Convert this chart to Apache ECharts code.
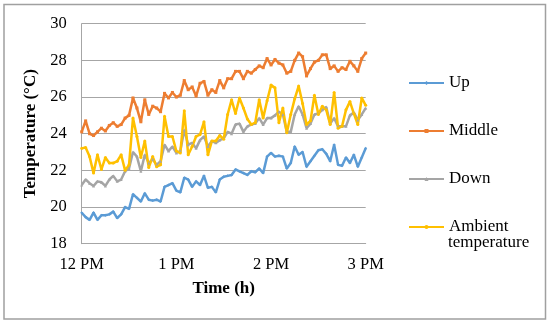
<!DOCTYPE html>
<html>
<head>
<meta charset="utf-8">
<script src="https://cdn.jsdelivr.net/npm/echarts@6/dist/echarts.min.js"></script>
<style>html,body{margin:0;padding:0;background:#fff}#c{width:550px;height:324px}</style>
</head>
<body>
<div id="c"></div>
<script>
// Time in minutes after 12 PM
var minutes = [0,2.5,5,7.5,10,12.5,15,17.5,20,22.5,25,27.5,30,32.5,35,37.5,40,42.5,45,47.5,50,52.5,55,57.5,60,62.5,65,67.5,70,72.5,75,77.5,80,82.5,85,87.5,90,92.5,95,97.5,100,102.5,105,107.5,110,112.5,115,117.5,120,122.5,125,127.5,130,132.5,135,137.5,140,142.5,145,147.5,150,152.5,155,157.5,160,162.5,165,167.5,170,172.5,175,177.5,180];
var tickLabels = {0:'12 PM',60:'1 PM',120:'2 PM',180:'3 PM'};
var up = [19.69,19.45,19.3,19.7,19.3,19.55,19.55,19.6,19.75,19.4,19.6,20.0,19.9,20.7,20.5,20.3,20.75,20.4,20.35,20.4,20.3,21.1,21.2,21.3,20.9,20.8,21.6,21.5,21.1,21.4,21.2,21.7,21.05,21.1,20.8,21.5,21.65,21.7,21.75,22.05,21.95,21.85,21.75,21.95,21.9,22.1,21.85,22.75,22.95,22.75,22.8,22.75,22.1,22.4,23.3,22.85,23.0,22.2,22.5,22.8,23.1,23.15,22.9,22.5,23.4,22.3,22.25,22.7,22.4,22.85,22.2,22.7,23.2];
var middle = [24.1,24.7,24.0,23.9,24.1,24.3,24.15,24.45,24.6,24.4,24.5,24.85,25.0,25.95,25.4,24.65,25.85,25.05,25.5,25.4,25.2,26.2,25.95,26.25,26.0,26.1,26.9,26.4,26.55,26.05,26.75,26.85,26.1,26.4,26.25,26.9,26.5,27.0,27.0,27.4,27.4,27.0,27.4,27.3,27.5,27.7,27.6,28.1,27.75,28.05,27.85,27.75,27.3,27.4,28.0,28.4,28.2,27.15,27.55,27.9,28.0,28.3,28.3,27.55,27.7,27.4,27.6,27.5,27.95,27.7,27.4,28.1,28.4];
var down = [21.2,21.5,21.3,21.15,21.4,21.35,21.15,21.5,21.7,21.4,21.5,21.95,22.1,23.0,22.75,21.95,22.85,22.4,22.6,22.3,22.5,23.4,23.05,23.3,22.95,23.05,24.2,23.4,23.5,23.2,23.65,23.85,23.3,23.6,23.5,23.65,23.75,24.1,24.0,24.5,24.55,24.1,24.4,24.5,24.55,24.85,24.5,24.85,24.85,25.0,25.2,25.05,24.1,24.1,25.05,25.5,25.05,24.3,24.55,25.05,25.1,25.3,25.45,24.55,24.85,24.4,24.4,24.4,25.0,25.15,24.75,25.05,25.4];
var ambient = [23.2,23.25,22.75,21.85,22.85,22.05,22.7,22.4,22.4,22.5,22.85,22.0,22.3,24.85,23.85,22.7,23.6,22.15,22.75,22.2,22.3,24.95,23.85,23.85,23.05,22.95,25.25,22.85,23.3,23.85,23.95,24.65,22.85,23.6,23.6,23.9,23.7,25.05,25.85,25.1,25.95,25.4,24.8,24.5,24.6,25.85,24.85,25.8,26.65,26.5,24.6,25.4,24.05,25.05,25.9,26.6,25.65,24.5,24.7,26.1,25.05,25.5,25.3,24.5,26.25,24.3,24.4,25.3,25.75,25.1,24.5,25.95,25.55];
var seriesNames = ['Up','Middle','Down','Ambient temperature'];
var colors = ['#5b9bd5','#ed7d31','#a5a5a5','#ffc000'];
var symbols = ['diamond','rect','triangle','circle'];
var values = [up, middle, down, ambient];

function pairs(arr){ return arr.map(function(v,i){ return [minutes[i], v]; }); }

var font = 'Liberation Serif';
var chart = echarts.init(document.getElementById('c'), null, {renderer:'canvas'});
chart.setOption({
  animation:false,
  backgroundColor:'#ffffff',
  color: colors,
  grid:{left:81.7, right:184.3, top:23.7, bottom:80.3, containLabel:false},
  xAxis:{
    type:'value', min:0, max:180, interval:60,
    name:'Time (h)', nameLocation:'middle', nameGap:36,
    nameTextStyle:{fontFamily:font, fontSize:17, fontWeight:'bold', color:'#000'},
    axisLine:{show:true, lineStyle:{color:'#a6a6a6', width:1}},
    axisTick:{show:false},
    splitLine:{show:false},
    axisLabel:{fontFamily:font, fontSize:16.5, color:'#000', margin:12,
      formatter:function(v){ return tickLabels[v] || ''; }}
  },
  yAxis:{
    type:'value', min:18, max:30, interval:2,
    name:'Temperature (°C)', nameLocation:'middle', nameGap:43, nameRotate:90,
    nameTextStyle:{fontFamily:font, fontSize:17, fontWeight:'bold', color:'#000'},
    axisLine:{show:true, lineStyle:{color:'#a6a6a6', width:1}},
    axisTick:{show:false},
    splitLine:{show:true, lineStyle:{color:'#a6a6a6', width:1}},
    axisLabel:{fontFamily:font, fontSize:16.5, color:'#000', margin:15}
  },
  legend:{
    orient:'vertical', left:403, top:69,
    itemWidth:35, itemHeight:5, itemGap:30,
    data: seriesNames,
    formatter:function(n){ return n === 'Ambient temperature' ? 'Ambient' : n; },
    textStyle:{fontFamily:font, fontSize:17, color:'#000', lineHeight:18}
  },
  graphic:[
    {type:'rect', shape:{x:4, y:4.5, width:541.5, height:314.5},
     style:{fill:null, stroke:'#a0a0a0', lineWidth:1.5}, silent:true, z:-1},
    {type:'text', x:448, y:243,
     style:{text:'temperature', font:'17px "Liberation Serif"', fill:'#000', textVerticalAlign:'middle'}}
  ],
  series: seriesNames.map(function(n,i){
    return {
      name:n, type:'line', data:pairs(values[i]),
      symbol:symbols[i], symbolSize:3, showSymbol:true,
      lineStyle:{width:2.5, color:colors[i]},
      itemStyle:{color:colors[i]}
    };
  })
});
</script>
</body>
</html>
